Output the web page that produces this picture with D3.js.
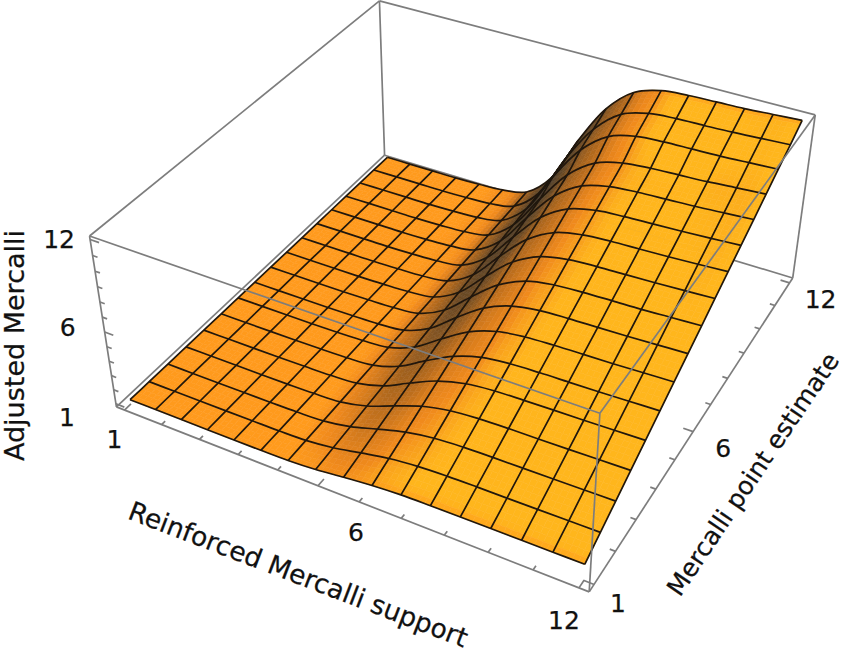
<!DOCTYPE html>
<html>
<head>
<meta charset="utf-8">
<script src="https://cdnjs.cloudflare.com/ajax/libs/d3/7.8.5/d3.min.js"></script>
<style>
	html, body { margin: 0; padding: 0; background: #fff; }
	svg { display: block; }
	text { font-family: "DejaVu Sans", sans-serif; fill: #111; stroke: #111; stroke-width: 0.25px; }
</style>
</head>
<body>
<script>
// mesh line positions on both horizontal axes
var meshX = [1, 1.6875, 2.375, 3.0625, 3.75, 4.4375, 5.125, 5.8125, 6.5, 7.1875, 7.875, 8.5625, 9.25, 9.9375, 10.625, 11.3125, 12];
var meshY = meshX;

// adjusted value, one row per meshY (front to back), one column per meshX
var surfaceZ = [
	[1.10,1.10,1.10,1.10,1.10,1.11,1.14,1.26,1.48,1.68,1.80,1.84,1.86,1.87,1.88,1.89,1.90],
	[1.10,1.10,1.10,1.10,1.11,1.12,1.17,1.39,1.77,2.13,2.34,2.43,2.46,2.47,2.49,2.51,2.53],
	[1.10,1.10,1.10,1.10,1.11,1.13,1.20,1.51,2.07,2.58,2.89,3.02,3.06,3.08,3.10,3.13,3.16],
	[1.10,1.10,1.10,1.10,1.11,1.14,1.23,1.64,2.36,3.04,3.44,3.60,3.66,3.68,3.71,3.75,3.79],
	[1.10,1.10,1.10,1.10,1.12,1.15,1.27,1.76,2.66,3.49,3.99,4.19,4.25,4.29,4.32,4.37,4.42],
	[1.10,1.10,1.10,1.10,1.12,1.16,1.30,1.89,2.96,3.94,4.54,4.77,4.85,4.89,4.93,4.99,5.05],
	[1.10,1.10,1.10,1.10,1.12,1.17,1.33,2.02,3.25,4.40,5.08,5.36,5.45,5.50,5.54,5.61,5.68],
	[1.10,1.10,1.10,1.10,1.13,1.18,1.36,2.14,3.55,4.85,5.63,5.95,6.05,6.10,6.15,6.23,6.31],
	[1.10,1.10,1.10,1.10,1.13,1.19,1.39,2.27,3.84,5.30,6.18,6.53,6.65,6.71,6.76,6.85,6.94],
	[1.10,1.10,1.10,1.10,1.13,1.20,1.42,2.39,4.14,5.76,6.73,7.12,7.25,7.31,7.38,7.47,7.57],
	[1.10,1.10,1.10,1.10,1.14,1.21,1.46,2.52,4.44,6.21,7.28,7.70,7.85,7.92,7.99,8.09,8.20],
	[1.10,1.10,1.10,1.10,1.14,1.22,1.49,2.65,4.73,6.67,7.83,8.29,8.44,8.52,8.60,8.71,8.83],
	[1.10,1.10,1.10,1.10,1.14,1.23,1.52,2.77,5.03,7.12,8.37,8.87,9.04,9.13,9.21,9.33,9.46],
	[1.10,1.10,1.10,1.10,1.14,1.23,1.55,2.90,5.33,7.57,8.92,9.46,9.64,9.73,9.82,9.96,10.09],
	[1.10,1.10,1.10,1.10,1.15,1.24,1.58,3.02,5.91,8.32,9.76,10.29,10.43,10.48,10.53,10.62,10.72],
	[1.10,1.10,1.10,1.10,1.15,1.25,1.61,3.15,6.23,8.79,10.33,10.89,11.04,11.09,11.15,11.25,11.35],
	[1.10,1.10,1.10,1.10,1.15,1.26,1.65,3.28,6.55,9.28,10.90,11.51,11.67,11.73,11.78,11.89,12.00]
];

var axisTicks = [1, 2, 3, 4, 5, 6, 7, 8, 9, 10, 11, 12];
var labelledTicks = [1, 6, 12];

var xTitle = 'Reinforced Mercalli support';
var yTitle = 'Mercalli point estimate';
var zTitle = 'Adjusted Mercalli';

var WIDTH = 846, HEIGHT = 652;
var SUBDIV = 5;

// data -> unit cube, with the 2% padding of the plot box
var PAD = 0.22;
var x = d3.scaleLinear().domain([1 - PAD, 12 + PAD]).range([0, 1]);
var y = d3.scaleLinear().domain([1 - PAD, 12 + PAD]).range([0, 1]);
var z = d3.scaleLinear().domain([1 - PAD, 12 + PAD]).range([0, 1]);

// where the cube corners sit in the picture, used to fit the camera
var calibration = [
	[[0,0,0],[117,407]], [[1,0,0],[589,592]], [[1,1,0],[793,278]], [[0,1,0],[384,155]],
	[[0,0,1],[89,236]],  [[1,0,1],[600,413]], [[1,1,1],[815,115]], [[0,1,1],[380,1]]
];

// least squares fit of a 3x4 camera (last term fixed to 1)
function fitCamera(pairs) {
	var rows = [], rhs = [];
	pairs.forEach(function(p) {
		var X = p[0][0], Y = p[0][1], Z = p[0][2], u = p[1][0], v = p[1][1];
		rows.push([X,Y,Z,1,0,0,0,0,-u*X,-u*Y,-u*Z]); rhs.push(u);
		rows.push([0,0,0,0,X,Y,Z,1,-v*X,-v*Y,-v*Z]); rhs.push(v);
	});
	var n = 11, m = [];
	for (var i = 0; i < n; i++) {
		m[i] = [];
		for (var j = 0; j < n; j++) m[i][j] = d3.sum(rows, function(r) { return r[i] * r[j]; });
		m[i][n] = d3.sum(rows, function(r, k) { return r[i] * rhs[k]; });
	}
	for (i = 0; i < n; i++) {
		var best = i;
		for (j = i + 1; j < n; j++) if (Math.abs(m[j][i]) > Math.abs(m[best][i])) best = j;
		var tmp = m[i]; m[i] = m[best]; m[best] = tmp;
		for (j = 0; j < n; j++) {
			if (j === i) continue;
			var f = m[j][i] / m[i][i];
			for (var k = i; k <= n; k++) m[j][k] -= f * m[i][k];
		}
	}
	return m.map(function(r, i) { return r[n] / r[i]; });
}
var cam = fitCamera(calibration);

function projectUnit(X, Y, Z) {
	var w = cam[8]*X + cam[9]*Y + cam[10]*Z + 1;
	return [(cam[0]*X + cam[1]*Y + cam[2]*Z + cam[3]) / w,
	        (cam[4]*X + cam[5]*Y + cam[6]*Z + cam[7]) / w];
}
function project(a, b, c) { return projectUnit(x(a), y(b), z(c)); }

// smooth reading of the table between mesh lines, only for shading
function catmull(p0, p1, p2, p3, t) {
	return 0.5 * (2*p1 + (p2-p0)*t + (2*p0-5*p1+4*p2-p3)*t*t + (3*p1-p0-3*p2+p3)*t*t*t);
}
function clampIdx(i) { return Math.max(0, Math.min(16, i)); }
function surfaceAt(u, v) {
	var i = Math.min(15, Math.floor(u)), j = Math.min(15, Math.floor(v));
	var col = [];
	for (var c = -1; c <= 2; c++) {
		var ci = clampIdx(i + c);
		col.push(catmull(surfaceZ[clampIdx(j-1)][ci], surfaceZ[j][ci], surfaceZ[j+1][ci], surfaceZ[clampIdx(j+2)][ci], v - j));
	}
	return catmull(col[0], col[1], col[2], col[3], u - i);
}
var meshStep = d3.scaleLinear().domain([0, 16]).range([1, 12]);

// shading: base orange goes yellower as the surface tilts, darker on the steep flank
var baseColor = d3.scaleLinear().domain([0, 0.9]).range(['#ff9a1c', '#ffb61e']).clamp(true);
var steepStops = [0.1, 0.4, 1.05, 2.3, 4.3];
var steepColors = ['#f08a1c', '#bd6e1e', '#6e4a22', '#3e3830'];

function shade(u, v) {
	var e = 0.25, h = 11 / 16;
	var dzdx = (surfaceAt(Math.min(16, u + e), v) - surfaceAt(Math.max(0, u - e), v)) / (2 * e * h);
	var dzdy = (surfaceAt(u, Math.min(16, v + e)) - surfaceAt(u, Math.max(0, v - e))) / (2 * e * h);
	// the upper part of the flank catches more light than the lower part
	var lit = u > 8 ? Math.max(0.7, 1 - 0.3 * (u - 8)) : 1;
	var ramp = d3.scaleLinear().domain(steepStops)
		.range([baseColor(dzdy)].concat(steepColors)).clamp(true);
	return ramp(Math.abs(dzdx) * lit);
}

var svg = d3.select('body').append('svg').attr('width', WIDTH).attr('height', HEIGHT);
var defs = svg.append('defs');
defs.append('filter').attr('id', 'soft').append('feGaussianBlur').attr('stdDeviation', 0.45);

var line = d3.line();
var smooth = d3.line().curve(d3.curveCatmullRom);
var BOX = '#7d7d7d';

function edge(g, a, b) {
	g.append('path')
		.attr('d', line([projectUnit.apply(null, a), projectUnit.apply(null, b)]))
		.attr('fill', 'none').attr('stroke', BOX).attr('stroke-width', 1.7);
}

// ------------------------ BOX EDGES BEHIND THE SURFACE ------------------------
var back = svg.append('g');
edge(back, [0,0,0], [0,1,0]);
edge(back, [0,1,0], [1,1,0]);
edge(back, [0,1,0], [0,1,1]);
edge(back, [0,0,1], [0,1,1]);
edge(back, [0,1,1], [1,1,1]);
edge(back, [1,1,1], [1,1,0]);

// ------------------------ SURFACE CELLS ------------------------
var cells = [];
for (var j = 15; j >= 0; j--) {
	for (var i = 0; i < 16; i++) {
		for (var b = SUBDIV - 1; b >= 0; b--) {
			for (var a = 0; a < SUBDIV; a++) {
				cells.push({u0: i + a / SUBDIV, u1: i + (a + 1) / SUBDIV, v0: j + b / SUBDIV, v1: j + (b + 1) / SUBDIV});
			}
		}
	}
}
function surfacePoint(u, v) { return project(meshStep(u), meshStep(v), surfaceAt(u, v)); }

var surface = svg.append('g').attr('filter', 'url(#soft)');
surface.append('g').selectAll('path')
	.data(cells)
	.enter()
	.append('path')
	.attr('d', function(d) {
		return line([surfacePoint(d.u0, d.v0), surfacePoint(d.u1, d.v0), surfacePoint(d.u1, d.v1), surfacePoint(d.u0, d.v1)]) + 'Z';
	})
	.each(function(d) {
		var c = shade((d.u0 + d.u1) / 2, (d.v0 + d.v1) / 2);
		d3.select(this).attr('fill', c).attr('stroke', c).attr('stroke-width', 0.6);
	});

// ------------------------ MESH LINES ------------------------
var mesh = surface.append('g').attr('fill', 'none').attr('stroke', '#20180c').attr('stroke-width', 1.7);
meshY.forEach(function(yv, j) {
	mesh.append('path').attr('d', smooth(meshX.map(function(xv, i) { return project(xv, yv, surfaceZ[j][i]); })));
});
meshX.forEach(function(xv, i) {
	mesh.append('path').attr('d', smooth(meshY.map(function(yv, j) { return project(xv, yv, surfaceZ[j][i]); })));
});

// ------------------------ BOX EDGES IN FRONT ------------------------
var front = svg.append('g');
edge(front, [0,0,0], [1,0,0]);
edge(front, [1,0,0], [1,1,0]);
edge(front, [0,0,0], [0,0,1]);
edge(front, [0,0,1], [1,0,1]);
edge(front, [1,0,1], [1,0,0]);
edge(front, [1,0,1], [1,1,1]);

// ------------------------ TICKS ------------------------
function tickLen(v) { return labelledTicks.indexOf(v) >= 0 ? 0.02 : 0.011; }
axisTicks.forEach(function(v) {
	var len = tickLen(v);
	edge(front, [x(v), 0, 0], [x(v), len, 0]);
	edge(front, [1, y(v), 0], [1 - len, y(v), 0]);
	edge(front, [0, 0, z(v)], [len, 0, z(v)]);
});

// ------------------------ TICK LABELS ------------------------
var xOffsets = [[-10, 38], [38, 55], [-15, 41]];
var yOffsets = [[24, 28], [30, 25], [31, 25]];
var zOffsets = [[-49, 22], [-37, 4], [-31, 8]];

function tickText(pos, off, s) {
	svg.append('text')
		.attr('x', pos[0] + off[0]).attr('y', pos[1] + off[1])
		.attr('text-anchor', 'middle').attr('font-size', 25).text(s);
}
labelledTicks.forEach(function(v, i) {
	tickText(projectUnit(x(v), 0, 0), xOffsets[i], v);
	tickText(projectUnit(1, y(v), 0), yOffsets[i], v);
	tickText(projectUnit(0, 0, z(v)), zOffsets[i], v);
});

// ------------------------ AXIS TITLES ------------------------
function title(px, py, angle, size, s) {
	svg.append('text')
		.attr('transform', 'translate(' + px + ',' + py + ') rotate(' + angle + ')')
		.attr('text-anchor', 'middle').attr('font-size', size).text(s);
}
title(295, 583, 21, 26.4, xTitle);
title(760, 479, -56, 25, yTitle);
title(24, 345.5, -90, 27, zTitle);
</script>
</body>
</html>
